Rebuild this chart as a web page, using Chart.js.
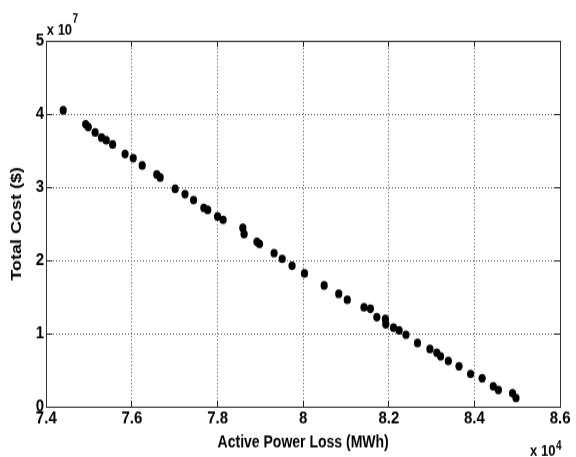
<!DOCTYPE html>
<html>
<head>
<meta charset="utf-8">
<script src="https://cdn.jsdelivr.net/npm/chart.js@4.4.1/dist/chart.umd.min.js"></script>
<style>
  html, body { margin: 0; padding: 0; background: #fff; overflow: hidden; }
  /* the reference figure is vertically stretched: draw on a 576x381 canvas shown at 576x457 */
  canvas { display: block; width: 576px !important; height: 457px !important; }
</style>
</head>
<body>
<canvas id="c" width="576" height="381"></canvas>
<script>
// Active power loss (MWh)
const lossMWh = [74395, 74920, 74980, 75140, 75290, 75400, 75550, 75840, 76030, 76240,
  76580, 76660, 77010, 77240, 77440, 77680, 77770, 78000, 78130, 78590,
  78620, 78920, 78980, 79320, 79510, 79740, 80030, 80490, 80830, 81030,
  81420, 81570, 81720, 81920, 81930, 82110, 82240, 82400, 82670, 82960,
  83120, 83210, 83390, 83640, 83910, 84180, 84440, 84560, 84890, 84970];
// Total cost ($)
const totalCost = [40530000, 38620000, 38250000, 37490000, 36800000, 36430000, 35850000, 34560000, 33980000, 32980000,
  31750000, 31340000, 29780000, 29060000, 28240000, 27190000, 26910000, 26010000, 25550000, 24450000,
  23590000, 22540000, 22270000, 21000000, 20220000, 19260000, 18220000, 16580000, 15440000, 14620000,
  13580000, 13390000, 12250000, 11980000, 11260000, 10790000, 10440000, 9840000, 8700000, 7880000,
  7380000, 6890000, 6240000, 5520000, 4470000, 3880000, 2790000, 2280000, 1830000, 1190000];
const xTickValues = [74000, 76000, 78000, 80000, 82000, 84000, 86000];
const yTickValues = [0, 10000000, 20000000, 30000000, 40000000, 50000000];
const xTitle = 'Active Power Loss (MWh)';
const yTitle = 'Total Cost ($)';
const xExponent = '4';
const yExponent = '7';

const FONT = "'Liberation Sans', Arial, Helvetica, sans-serif";
const points = lossMWh.map((x, i) => ({ x: x, y: totalCost[i] }));

const exponentPlugin = {
  id: 'exponents',
  afterDraw(chart) {
    const ctx = chart.ctx;
    const ca = chart.chartArea;
    ctx.save();
    ctx.fillStyle = '#000';
    ctx.textBaseline = 'alphabetic';
    ctx.textAlign = 'left';
    // y exponent (top-left)
    ctx.font = 'bold 13px ' + FONT;
    ctx.fillText('x 10', ca.left + 0.5, ca.top - 5);
    let w = ctx.measureText('x 10').width;
    ctx.font = 'bold 10px ' + FONT;
    ctx.fillText(yExponent, ca.left + 0.5 + w + 0.5, ca.top - 15.5);
    // x exponent (bottom-right)
    ctx.font = 'bold 13px ' + FONT;
    ctx.fillText('x 10', ca.right - 30, chart.height - 0.8);
    w = ctx.measureText('x 10').width;
    ctx.font = 'bold 10px ' + FONT;
    ctx.fillText(xExponent, ca.right - 30 + w + 0.5, chart.height - 6.5);
    ctx.restore();
  }
};

const inwardX = { color: '#555', lineWidth: 1, drawTicks: true, tickLength: -5, tickColor: '#222', tickWidth: 1 };
const inwardY = { color: '#555', lineWidth: 1, drawTicks: true, tickLength: -6, tickColor: '#222', tickWidth: 1 };

new Chart(document.getElementById('c'), {
  type: 'scatter',
  data: {
    datasets: [{
      data: points,
      pointRadius: 3.6,
      pointHoverRadius: 3.6,
      pointBackgroundColor: '#000',
      pointBorderColor: '#000',
      pointBorderWidth: 0
    }]
  },
  options: {
    responsive: false,
    animation: false,
    devicePixelRatio: 1,
    layout: { padding: { top: 34.2, right: 12.7, left: 0, bottom: 0 } },
    plugins: { legend: { display: false }, tooltip: { enabled: false } },
    scales: {
      x: {
        type: 'linear',
        position: 'bottom',
        min: 74000, max: 86000,
        afterBuildTicks: s => { s.ticks = xTickValues.map(v => ({ value: v })); },
        afterFit: s => { s.height = 42; },
        ticks: {
          color: '#000', padding: 5.5, maxRotation: 0, autoSkip: false,
          font: { family: FONT, size: 15, weight: 'bold' },
          callback: v => String(+(v / 10000).toFixed(1))
        },
        grid: inwardX,
        border: { display: true, color: '#333', width: 1, dash: [1, 2] },
        title: {
          display: true, text: xTitle, color: '#000',
          font: { family: FONT, size: 14, weight: 'bold' },
          padding: { top: 0, bottom: 3.4 }
        }
      },
      y: {
        type: 'linear',
        position: 'left',
        min: 0, max: 50000000,
        afterBuildTicks: s => { s.ticks = yTickValues.map(v => ({ value: v })); },
        afterFit: s => { s.width = 46.3; },
        ticks: {
          color: '#000', padding: 8.3, autoSkip: false,
          font: { family: FONT, size: 15, weight: 'bold' },
          callback: v => String(v / 10000000)
        },
        grid: inwardY,
        border: { display: true, color: '#333', width: 1, dash: [1, 2] },
        title: {
          display: true, text: yTitle, color: '#000',
          font: { family: FONT, size: 15, weight: 'bold' },
          padding: { top: 8, bottom: 0 }
        }
      },
      x2: {
        type: 'linear', position: 'top', min: 74000, max: 86000,
        afterBuildTicks: s => { s.ticks = xTickValues.map(v => ({ value: v })); },
        afterFit: s => { s.height = 0; },
        ticks: { display: false },
        grid: { display: true, drawOnChartArea: false, drawTicks: true, tickLength: -5, tickColor: '#222', tickWidth: 1 },
        border: { display: true, color: '#333', width: 1 }
      },
      y2: {
        type: 'linear', position: 'right', min: 0, max: 50000000,
        afterBuildTicks: s => { s.ticks = yTickValues.map(v => ({ value: v })); },
        afterFit: s => { s.width = 0; },
        ticks: { display: false },
        grid: { display: true, drawOnChartArea: false, drawTicks: true, tickLength: -6, tickColor: '#222', tickWidth: 1 },
        border: { display: true, color: '#333', width: 1 }
      }
    }
  },
  plugins: [exponentPlugin]
});
</script>
</body>
</html>
